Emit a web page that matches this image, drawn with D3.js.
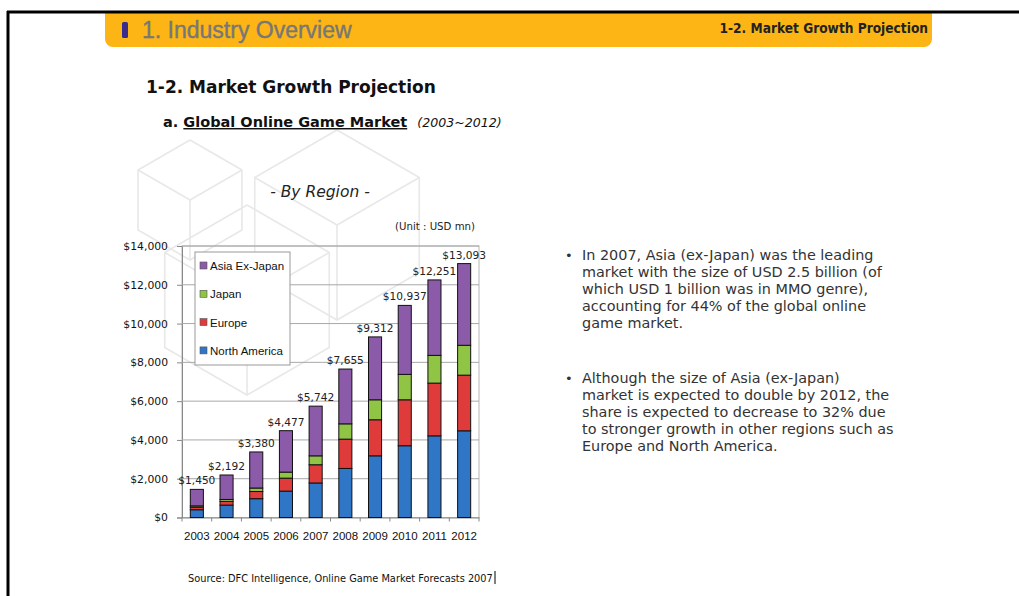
<!DOCTYPE html>
<html>
<head>
<meta charset="utf-8">
<script src="https://cdn.jsdelivr.net/npm/d3@7"></script>
<style>
  html, body { margin:0; padding:0; background:#fff; }
  svg { display:block; }
</style>
</head>
<body>
<svg id="page" width="1019" height="596"></svg>
<script>
// data (USD mn)
var years = ["2003","2004","2005","2006","2007","2008","2009","2010","2011","2012"];
var northAmerica = [400, 640, 970, 1360, 1780, 2530, 3180, 3700, 4210, 4470];
var europe       = [130, 190, 370, 670, 940, 1510, 1860, 2370, 2720, 2870];
var japan        = [70, 100, 180, 310, 460, 790, 1030, 1310, 1430, 1540];
var asiaExJapan  = [850, 1262, 1860, 2137, 2562, 2825, 3242, 3557, 3891, 4213];
var totals       = [1450, 2192, 3380, 4477, 5742, 7655, 9312, 10937, 12251, 13093];
var seriesNames  = ["North America", "Europe", "Japan", "Asia Ex-Japan"];
var yTicks       = [0, 2000, 4000, 6000, 8000, 10000, 12000, 14000];

var colors = {"North America":"#2f76c6", "Europe":"#e03b3b", "Japan":"#8fc445", "Asia Ex-Japan":"#8b5aa8"};

var svg = d3.select("#page");

// page frame
svg.append("rect").attr("x",105).attr("y",12).attr("width",827).attr("height",35)
  .attr("rx",8).attr("fill","#fdb515");
svg.append("rect").attr("x",105).attr("y",12).attr("width",827).attr("height",12).attr("fill","#fdb515");
svg.append("line").attr("x1",7).attr("x2",1019).attr("y1",12).attr("y2",12)
  .attr("stroke","#000").attr("stroke-width",3);
svg.append("line").attr("x1",8).attr("x2",8).attr("y1",11).attr("y2",596)
  .attr("stroke","#000").attr("stroke-width",3);

svg.append("rect").attr("x",122).attr("y",22).attr("width",6).attr("height",16).attr("rx",1.5).attr("fill","#3b2b8c");
svg.append("text").attr("x",142).attr("y",38).text("1. Industry Overview")
  .style("font-family","Liberation Sans, Arial, sans-serif").style("font-size","23px")
  .attr("fill","#777").attr("stroke","#777").attr("stroke-width",0.4);
svg.append("text").attr("x",928).attr("y",33).attr("text-anchor","end").text("1-2. Market Growth Projection")
  .style("font-family","DejaVu Sans Condensed, DejaVu Sans, sans-serif").style("font-weight","bold")
  .style("font-size","13.6px").attr("fill","#222");

// background cube watermark
var wm = svg.append("g").attr("fill","none").attr("stroke","#e8e8e8").attr("stroke-width",1.6);
function cube(cx, cy, r){
  var pts = d3.range(6).map(function(i){
    var a = Math.PI/180*(60*i - 90);
    return [cx + r*Math.cos(a), cy + r*Math.sin(a)];
  });
  wm.append("path").attr("d", d3.line()(pts.concat([pts[0]])));
  [pts[1], pts[3], pts[5]].forEach(function(p){
    wm.append("line").attr("x1",cx).attr("y1",cy).attr("x2",p[0]).attr("y2",p[1]);
  });
}
cube(247, 300, 95);
cube(337, 225, 95);
cube(190, 200, 60);

// titles
svg.append("text").attr("x",146).attr("y",93).text("1-2. Market Growth Projection")
  .style("font-family","DejaVu Sans, Verdana, sans-serif").style("font-weight","bold")
  .style("font-size","17px").attr("fill","#111");
var sub = svg.append("text").attr("x",163).attr("y",127)
  .style("font-family","DejaVu Sans, Verdana, sans-serif").style("font-size","14.5px").attr("fill","#111");
sub.append("tspan").style("font-weight","bold").text("a. ");
sub.append("tspan").style("font-weight","bold").style("text-decoration","underline").text("Global Online Game Market");
sub.append("tspan").attr("dx",10).style("font-style","italic").style("font-size","12.6px").text("(2003~2012)");

svg.append("text").attr("x",320).attr("y",197).attr("text-anchor","middle").text("-  By Region -")
  .style("font-family","DejaVu Sans, Verdana, sans-serif").style("font-style","italic")
  .style("font-size","15.5px").attr("fill","#222");
svg.append("text").attr("x",475).attr("y",230).attr("text-anchor","end").text("(Unit : USD mn)")
  .style("font-family","DejaVu Sans, Verdana, sans-serif").style("font-size","10.2px").attr("fill","#222");

// chart
var x = d3.scaleBand().domain(years).range([182, 479]).paddingInner(0.56).paddingOuter(0.28);
var y = d3.scaleLinear().domain([0, 14000]).range([517.5, 246]);

var chart = svg.append("g");
chart.append("rect").attr("x",182).attr("y",y(14000)).attr("width",297).attr("height",y(0)-y(14000))
  .attr("fill","none").attr("stroke","#b5b5b5");

var yAxis = chart.append("g").attr("transform","translate(182,0)")
  .call(d3.axisLeft(y).tickValues(yTicks).tickSize(5).tickPadding(9)
    .tickFormat(function(d){ return "$" + d3.format(",")(d); }));
yAxis.select(".domain").attr("stroke","#888");
yAxis.selectAll(".tick line").attr("stroke","#888");
yAxis.selectAll("text").style("font-family","DejaVu Sans, Verdana, sans-serif").style("font-size","10.8px").attr("fill","#111");
chart.append("g").selectAll("line").data(yTicks.slice(1)).join("line")
  .attr("x1",182).attr("x2",479).attr("y1",function(d){return y(d);}).attr("y2",function(d){return y(d);})
  .attr("stroke","#a8a8a8");

var xAxis = chart.append("g").attr("transform","translate(0,"+y(0)+")")
  .call(d3.axisBottom(x).tickSize(0).tickPadding(14));
xAxis.select(".domain").attr("stroke","#888");
xAxis.selectAll("text").style("font-family","Liberation Sans, Arial, sans-serif").style("font-size","11.5px").attr("fill","#111");
chart.append("g").selectAll("line").data(d3.range(years.length+1)).join("line")
  .attr("x1",function(i){return 182 + i*297/years.length;}).attr("x2",function(i){return 182 + i*297/years.length;})
  .attr("y1",y(0)).attr("y2",y(0)+4).attr("stroke","#888");

var table = years.map(function(yr, i){
  return {year:yr, "North America":northAmerica[i], "Europe":europe[i], "Japan":japan[i], "Asia Ex-Japan":asiaExJapan[i]};
});
var stack = d3.stack().keys(seriesNames)(table);

chart.append("g").selectAll("g").data(stack).join("g")
  .attr("fill", function(d){ return colors[d.key]; })
  .selectAll("rect").data(function(d){ return d; }).join("rect")
  .attr("x", function(d){ return x(d.data.year); })
  .attr("width", x.bandwidth())
  .attr("y", function(d){ return y(d[1]); })
  .attr("height", function(d){ return y(d[0]) - y(d[1]); })
  .attr("stroke","#111").attr("stroke-width",1);

chart.append("g").selectAll("text").data(totals).join("text")
  .attr("x", function(d,i){ return x(years[i]) + x.bandwidth()/2; })
  .attr("y", function(d){ return y(d) - 5; })
  .attr("text-anchor","middle")
  .text(function(d){ return "$" + d3.format(",")(d); })
  .style("font-family","DejaVu Sans, Verdana, sans-serif").style("font-size","10.6px").attr("fill","#222");

// legend
var lg = chart.append("g").attr("transform","translate(195,252)");
lg.append("rect").attr("width",95).attr("height",113).attr("fill","#fff").attr("stroke","#999");
var legendOrder = ["Asia Ex-Japan", "Japan", "Europe", "North America"];
var li = lg.selectAll("g").data(legendOrder).join("g")
  .attr("transform", function(d,i){ return "translate(5," + (14 + i*28.3) + ")"; });
li.append("rect").attr("x",0).attr("y",-4).attr("width",7).attr("height",7)
  .attr("fill", function(d){ return colors[d]; }).attr("stroke","#555").attr("stroke-width",0.6);
li.append("text").attr("x",10).attr("y",4).text(function(d){ return d; })
  .style("font-family","Liberation Sans, Arial, sans-serif").style("font-size","11.5px").attr("fill","#111");

// source
svg.append("text").attr("x",188).attr("y",582).text("Source: DFC Intelligence, Online Game Market Forecasts 2007")
  .style("font-family","DejaVu Sans, Verdana, sans-serif").style("font-size","9.8px").attr("fill","#111");
svg.append("line").attr("x1",495).attr("x2",495).attr("y1",571).attr("y2",584).attr("stroke","#000");

// notes
var notes = [
  ["In 2007, Asia (ex-Japan) was the leading", "market with the size of USD 2.5 billion (of", "which USD 1 billion was in MMO genre),", "accounting for 44% of the global online", "game market."],
  ["Although the size of Asia (ex-Japan)", "market is expected to double by 2012, the", "share is expected to decrease to 32% due", "to stronger growth in other regions such as", "Europe and North America."]
];
var noteTop = [260, 383];
notes.forEach(function(lines, k){
  svg.append("text").attr("x",565).attr("y",noteTop[k]).text("•")
    .style("font-family","DejaVu Sans, Verdana, sans-serif").style("font-size","13px").attr("fill","#333");
  var t = svg.append("text").attr("x",582).attr("y",noteTop[k])
    .style("font-family","DejaVu Sans, Verdana, sans-serif").style("font-size","14.4px").attr("fill","#333");
  lines.forEach(function(s, j){
    t.append("tspan").attr("x",582).attr("y",noteTop[k] + j*17).text(s);
  });
});
</script>
</body>
</html>
